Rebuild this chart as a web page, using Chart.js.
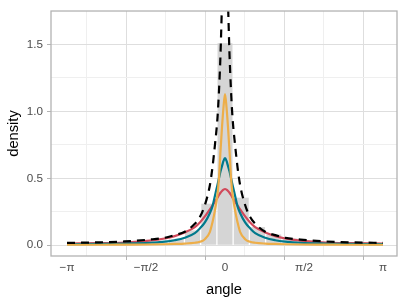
<!DOCTYPE html>
<html>
<head>
<meta charset="utf-8">
<script src="https://cdn.jsdelivr.net/npm/chart.js@4.4.0/dist/chart.umd.min.js"></script>
<style>
  html, body { margin: 0; padding: 0; background: #fff; }
</style>
</head>
<body>
<canvas id="myChart" width="407" height="305"></canvas>
<script>
const PI = Math.PI;

// histogram of observed angles (bin centres and density)
const binCenters = [-2.907, -2.584, -2.261, -1.938, -1.615, -1.292, -0.969, -0.646, -0.323, 0,
                    0.323, 0.646, 0.969, 1.292, 1.615, 1.938, 2.261, 2.584, 2.907];
const binDensity = [0.008, 0.008, 0.01, 0.012, 0.015, 0.025, 0.045, 0.11, 0.31, 1.51,
                    0.355, 0.135, 0.08, 0.05, 0.035, 0.025, 0.018, 0.014, 0.012];

// fitted densities, read at these angles
const angles = [-3.1416, -2.5, -2.0, -1.5, -1.2, -1.0, -0.8, -0.6, -0.5, -0.4, -0.3, -0.25, -0.2, -0.15, -0.12, -0.09, -0.06, -0.03,
                0,
                0.03, 0.06, 0.09, 0.12, 0.15, 0.2, 0.25, 0.3, 0.4, 0.5, 0.6, 0.8, 1.0, 1.2, 1.5, 2.0, 2.5, 3.1416];
const redDens    = [0.012, 0.015, 0.02, 0.034, 0.05, 0.068, 0.095, 0.135, 0.17, 0.215, 0.268, 0.295, 0.325, 0.355, 0.375, 0.392, 0.405, 0.415,
                    0.42,
                    0.415, 0.405, 0.392, 0.375, 0.355, 0.325, 0.295, 0.268, 0.215, 0.17, 0.135, 0.095, 0.068, 0.05, 0.034, 0.02, 0.015, 0.012];
const tealDens   = [0.008, 0.009, 0.012, 0.018, 0.027, 0.037, 0.055, 0.09, 0.125, 0.17, 0.24, 0.29, 0.37, 0.45, 0.5, 0.55, 0.59, 0.63,
                    0.65,
                    0.63, 0.59, 0.55, 0.5, 0.45, 0.37, 0.29, 0.24, 0.17, 0.125, 0.09, 0.055, 0.037, 0.027, 0.018, 0.012, 0.009, 0.008];
const orangeDens = [0.003, 0.003, 0.004, 0.005, 0.007, 0.009, 0.012, 0.018, 0.025, 0.045, 0.1, 0.17, 0.26, 0.38, 0.5, 0.7, 0.88, 1.03,
                    1.13,
                    1.03, 0.88, 0.7, 0.5, 0.38, 0.26, 0.17, 0.1, 0.045, 0.025, 0.018, 0.012, 0.009, 0.007, 0.005, 0.004, 0.003, 0.003];
const blackDens  = [0.017, 0.021, 0.028, 0.042, 0.055, 0.075, 0.1, 0.16, 0.21, 0.3, 0.45, 0.58, 0.75, 0.95, 1.15, 1.42, 1.8, 2.1,
                    2.6,
                    2.1, 1.8, 1.42, 1.15, 0.95, 0.75, 0.58, 0.45, 0.3, 0.21, 0.16, 0.1, 0.075, 0.055, 0.042, 0.028, 0.021, 0.017];

// axis ticks
const xMajor = [-PI, -PI / 2, 0, PI / 2, PI];
const xMajorLabels = ['\u2212\u03c0', '\u2212\u03c0/2', '0', '\u03c0/2', '\u03c0'];
const xMinor = [-3 * PI / 4, -PI / 4, PI / 4, 3 * PI / 4];
const yMajor = [0, 0.5, 1.0, 1.5];
const yMajorLabels = ['0.0', '0.5', '1.0', '1.5'];
const yMinor = [0.25, 0.75, 1.25];

Chart.defaults.font.family = "'Liberation Sans', Arial, sans-serif";

function pts(ys) {
    return angles.map((a, i) => ({x: a, y: ys[i]}));
}

function isMajor(list, c) {
    if (!c || !c.tick) return false;
    return list.some(m => Math.abs(m - c.tick.value) < 1e-6);
}

const panelBorder = {
    id: 'panelBorder',
    afterDatasetsDraw(chart) {
        const {ctx, chartArea: a} = chart;
        ctx.save();
        ctx.strokeStyle = '#b3b3b3';
        ctx.lineWidth = 1.3;
        ctx.strokeRect(a.left, a.top, a.right - a.left, a.bottom - a.top);
        ctx.restore();
    }
};

const lineStyle = {
    type: 'line',
    pointRadius: 0,
    borderWidth: 2.2,
    fill: false,
    cubicInterpolationMode: 'monotone',
    clip: 0
};

const ctx = document.getElementById('myChart').getContext('2d');

const chart = new Chart(ctx, {
    type: 'line',
    data: {
        datasets: [
            Object.assign({}, lineStyle, {label: 'fit 4', data: pts(blackDens), borderColor: '#000000', borderDash: [8, 6], order: 1}),
            Object.assign({}, lineStyle, {label: 'fit 3', data: pts(orangeDens), borderColor: '#edae49', order: 2}),
            Object.assign({}, lineStyle, {label: 'fit 2', data: pts(tealDens), borderColor: '#00798c', order: 3}),
            Object.assign({}, lineStyle, {label: 'fit 1', data: pts(redDens), borderColor: '#d1495b', order: 4}),
            {
                type: 'bar',
                label: 'observed',
                data: binCenters.map((c, i) => ({x: c, y: binDensity[i]})),
                backgroundColor: '#d5d5d5',
                borderWidth: 0,
                barPercentage: 0.92,
                categoryPercentage: 1.0,
                order: 5,
                clip: 0
            }
        ]
    },
    options: {
        responsive: false,
        animation: false,
        layout: {padding: {left: 0, top: 7, right: 10, bottom: 0}},
        plugins: {
            legend: {display: false},
            tooltip: {enabled: false}
        },
        scales: {
            x: {
                type: 'linear',
                min: -3.460,
                max: 3.420,
                offset: false,
                afterBuildTicks: s => { s.ticks = xMajor.concat(xMinor).sort((a, b) => a - b).map(v => ({value: v})); },
                afterFit: s => { s.height = 49; },
                border: {display: false},
                grid: {
                    color: c => isMajor(xMajor, c) ? '#dedede' : '#efefef',
                    tickColor: c => isMajor(xMajor, c) ? '#b3b3b3' : 'rgba(0,0,0,0)',
                    tickLength: 4,
                    lineWidth: 1
                },
                ticks: {
                    autoSkip: false,
                    maxRotation: 0,
                    padding: 1,
                    color: '#4d4d4d',
                    font: {size: 11.7},
                    callback: v => {
                        const i = xMajor.findIndex(m => Math.abs(m - v) < 1e-6);
                        return i >= 0 ? xMajorLabels[i] : '';
                    }
                },
                title: {
                    display: true,
                    text: 'angle',
                    color: '#000000',
                    font: {size: 14.7},
                    padding: {top: 0, bottom: 6}
                }
            },
            y: {
                min: -0.0809,
                max: 1.75,
                afterBuildTicks: s => { s.ticks = yMajor.concat(yMinor).sort((a, b) => a - b).map(v => ({value: v})); },
                afterFit: s => { s.width = 51; },
                border: {display: false},
                grid: {
                    color: c => isMajor(yMajor, c) ? '#dedede' : '#efefef',
                    tickColor: c => isMajor(yMajor, c) ? '#b3b3b3' : 'rgba(0,0,0,0)',
                    tickLength: 4,
                    lineWidth: 1
                },
                ticks: {
                    autoSkip: false,
                    padding: 4,
                    color: '#4d4d4d',
                    font: {size: 11.7},
                    callback: v => {
                        const i = yMajor.findIndex(m => Math.abs(m - v) < 1e-6);
                        return i >= 0 ? yMajorLabels[i] : '';
                    }
                },
                title: {
                    display: true,
                    text: 'density',
                    color: '#000000',
                    font: {size: 14.7},
                    padding: {top: 5, bottom: 0}
                }
            }
        }
    },
    plugins: [panelBorder]
});
</script>
</body>
</html>
